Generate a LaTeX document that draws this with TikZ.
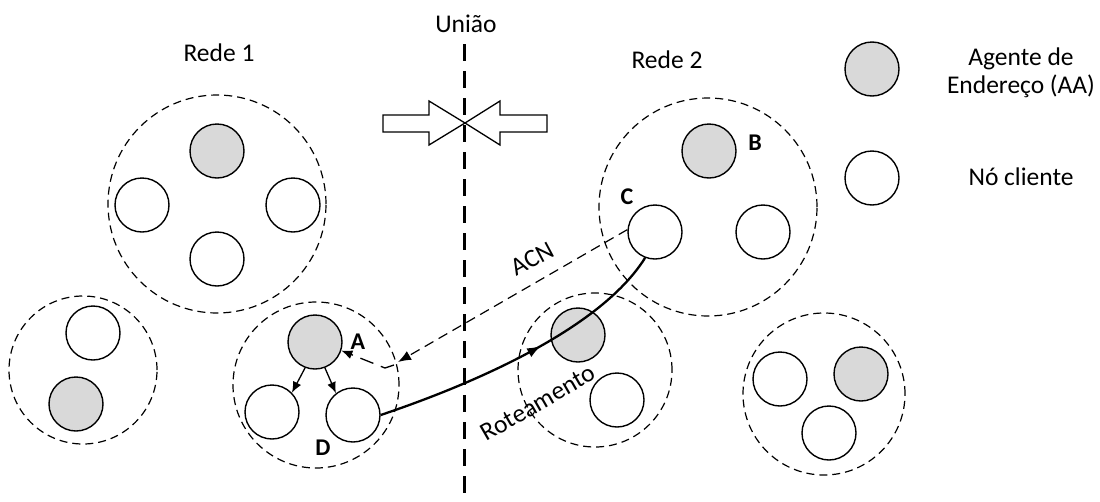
\documentclass[tikz,border=0pt]{standalone}
\usepackage{fontspec}
\setmainfont{Carlito}
\usetikzlibrary{arrows.meta,decorations.markings}
\definecolor{aafill}{HTML}{D9D9D9}
\tikzset{
  host/.style={circle,draw,line width=1.4pt,minimum size=54pt,inner sep=0pt,fill=white},
  agent/.style={host,fill=aafill},
  cluster/.style={circle,draw,line width=1.2pt,dash pattern=on 8pt off 5pt,inner sep=0pt},
  lbl/.style={font=\fontsize{25.5}{30}\selectfont},
  tag/.style={font=\fontsize{24}{28}\selectfont\bfseries},
  tip/.style={-{Latex[length=11pt,width=9pt]}},
  hollow/.style={draw,line width=1.3pt,fill=white,line join=miter}
}
\begin{document}
\begin{tikzpicture}[x=1pt,y=-1pt]
\useasboundingbox (0,0) rectangle (1100,501);

% dashed boundaries of the sub-networks
\node[cluster,minimum size=218pt] (g1) at (217,204) {};
\node[cluster,minimum size=148pt] (g2) at (83,370) {};
\node[cluster,minimum size=166pt] (g3) at (316,385) {};
\node[cluster,minimum size=218pt] (g4) at (708,207) {};
\node[cluster,minimum size=154pt] (g5) at (595,370) {};
\node[cluster,minimum size=162pt] (g6) at (824,394) {};

% merge line between the two networks
\coordinate (utop) at (464,44);
\coordinate (ubot) at (464,501);
\draw[line width=3pt,dash pattern=on 17pt off 10pt] (utop) -- (ubot);

% converging hollow arrows
\draw[hollow] (383,115) -- (429,115) -- (429,101) -- (465,123) -- (429,145) -- (429,132) -- (383,132) -- cycle;
\draw[hollow] (547,115) -- (500,115) -- (500,101) -- (465,123) -- (500,145) -- (500,132) -- (547,132) -- cycle;

% Rede 1
\node[agent] (a1) at (217,151) {};
\node[host]  (h1) at (142,205) {};
\node[host]  (h2) at (293,205) {};
\node[host]  (h3) at (217,259) {};
\node[host]  (h4) at (93,333) {};
\node[agent] (a2) at (76,404) {};
\node[agent] (A)  at (315,342) {};
\node[host]  (L1) at (272,412) {};
\node[host]  (D)  at (353,415) {};

% Rede 2
\node[agent] (B)  at (709,151) {};
\node[host]  (C)  at (655,232) {};
\node[host]  (h5) at (763,232) {};
\node[agent] (a3) at (578,335) {};
\node[host]  (h6) at (617,400) {};
\node[host]  (h7) at (780,379) {};
\node[agent] (a4) at (861,374) {};
\node[host]  (h8) at (829,433) {};

% legend
\node[agent] (kA) at (872,69) {};
\node[host]  (kC) at (872,178) {};
\node[lbl,align=center] (kAt) at (1021,73) {Agente de\\[-2pt]Endereço (AA)};
\node[lbl,anchor=base] (kCt) at (1021,185) {Nó cliente};

% titles
\node[lbl,anchor=base] (t1) at (219,61) {Rede 1};
\node[lbl,anchor=base] (t2) at (667,68) {Rede 2};
\node[lbl,anchor=base] (tu) at (466,32) {União};

% node tags
\node[tag] (tA) at (358,342) {A};
\node[tag] (tB) at (755,143) {B};
\node[tag] (tC) at (627,197) {C};
\node[tag] (tD) at (323,448) {D};

% A forwards to its clients
\draw[line width=1.3pt,tip] (A.-111) -- (L1.44);
\draw[line width=1.3pt,tip] (A.-69) -- (D.128);

% ACN message from C back to A
\coordinate (acnEnd) at (398,362);
\coordinate (acnBend) at (385,368);
\draw[line width=1.2pt,dash pattern=on 10pt off 6pt,-{Latex[length=13pt,width=10pt]}] (C.175) -- (acnEnd);
\draw[line width=1.3pt,dash pattern=on 14pt off 8pt,tip] (394,365) -- (acnBend) -- (A.-18);
\node[lbl,rotate=28] (tacn) at (532,259) {ACN};

% routing path from D to C
\draw[line width=2.3pt,
  postaction={decorate},
  decoration={markings,mark=at position 0.56 with {\arrow{Latex[length=14pt,width=10pt]}}}]
  (D.east) .. controls (470,385) and (600,330) .. (C.-111);
\node[lbl,rotate=30] (trot) at (538,403) {Roteamento};
\end{tikzpicture}
\end{document}
